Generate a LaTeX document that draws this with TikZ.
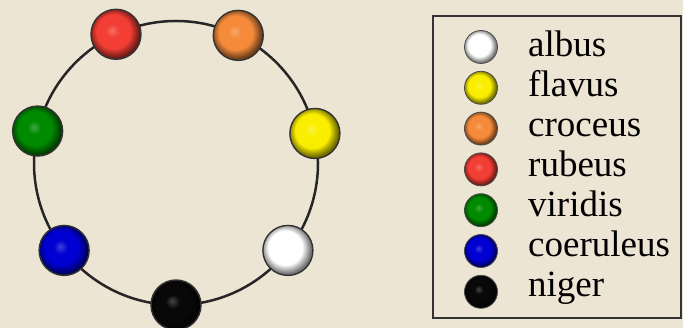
\documentclass[tikz,border=0pt]{standalone}
\usepackage{fontspec}
\setmainfont{Liberation Serif}
\usepackage{xcolor}
\usetikzlibrary{positioning}

\definecolor{paper}{RGB}{237,229,211}
\definecolor{ballred}{RGB}{242,62,52}
\definecolor{ballorange}{RGB}{244,138,58}
\definecolor{ballyellow}{RGB}{250,238,0}
\definecolor{ballgreen}{RGB}{0,138,0}
\definecolor{ballblue}{RGB}{0,0,210}
\definecolor{ballwhite}{RGB}{255,255,255}
\definecolor{ballblack}{RGB}{8,8,8}

% mostly flat ball with dark rim
\makeatletter
\pgfdeclareradialshading[tikz@ball]{flatball}{\pgfqpoint{-4bp}{4bp}}{%
  color(0bp)=(tikz@ball!75!white); color(7bp)=(tikz@ball);
  color(17bp)=(tikz@ball); color(25bp)=(tikz@ball!45!black);
  color(50bp)=(tikz@ball!45!black)}
\makeatother

\begin{document}
\begin{tikzpicture}[
x=1pt, y=1pt,
node distance=7pt,
ring/.style={circle, draw=black!85, line width=2.5pt, minimum size=284pt, inner sep=0pt, outer sep=0pt},
tint/.style={ball color=#1, shading=flatball},
ball/.style={circle, draw=black!80, line width=1.4pt, tint=#1, minimum size=50pt, inner sep=0pt},
key/.style={circle, draw=black!70, line width=0.8pt, tint=#1, minimum size=33pt, inner sep=0pt},
keytext/.style={anchor=base west, inner sep=0pt, font=\fontsize{37}{40}\selectfont, text=black},
frame/.style={draw=black!80, line width=1.5pt}
]
\fill[paper] (0,0) rectangle (683,328);
\useasboundingbox (0,0) rectangle (683,328);

% circle of colours
\node[ring] (ring) at (176,165) {};
\node[ball=ballblack] (niger) at (ring.-90) {};
\node[ball=ballwhite] (albus) at (ring.-38.57) {};
\node[ball=ballyellow] (flavus) at (ring.12.86) {};
\node[ball=ballorange] (croceus) at (ring.64.29) {};
\node[ball=ballred] (rubeus) at (ring.115.71) {};
\node[ball=ballgreen] (viridis) at (ring.167.14) {};
\node[ball=ballblue] (coeruleus) at (ring.218.57) {};

% legend
\draw[frame] (433,10) rectangle (681,312);
\node[key=ballwhite] (albuskey) at (481,281) {};
\node[key=ballyellow, below=of albuskey] (flavuskey) {};
\node[key=ballorange, below=of flavuskey] (croceuskey) {};
\node[key=ballred, below=of croceuskey] (rubeuskey) {};
\node[key=ballgreen, below=of rubeuskey] (viridiskey) {};
\node[key=ballblue, below=of viridiskey] (coeruleuskey) {};
\node[key=ballblack, below=of coeruleuskey] (nigerkey) {};
\node[keytext] (albustext) at (528,271) {albus};
\node[keytext] (flavustext) at (528,231) {flavus};
\node[keytext] (croceustext) at (528,191) {croceus};
\node[keytext] (rubeustext) at (528,151) {rubeus};
\node[keytext] (viridistext) at (528,111) {viridis};
\node[keytext] (coeruleustext) at (528,71) {coeruleus};
\node[keytext] (nigertext) at (528,31) {niger};
\end{tikzpicture}
\end{document}
